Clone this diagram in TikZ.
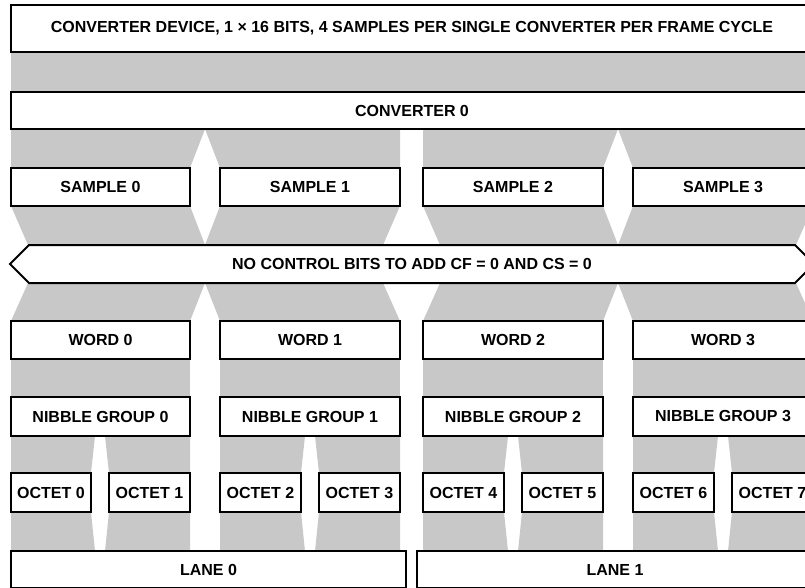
\documentclass[tikz,border=0pt]{standalone}
\usepackage{fontspec}
\setmainfont{Liberation Sans}
\definecolor{band}{RGB}{200,200,200}
% box from (x1,y1) to (x2,y2), y measured downwards
\newcommand\bitbox[6]{%
  \node[blk, minimum width={(#4-#2)*1pt}, minimum height={(#5-#3)*1pt}]
    (#1) at ({(#2+#4)/2},{(#3+#5)/2}) {#6};}
\begin{document}
\begin{tikzpicture}[x=1pt,y=-1pt,
  flow/.style={fill=band},
  edge/.style={draw=black, line width=2pt},
  lbl/.style={font=\fontsize{16}{18}\selectfont\bfseries},
  blk/.style={edge, lbl, fill=white, inner sep=0pt, outer sep=0pt}]
\useasboundingbox (0,0) rectangle (805,588);
\clip (0,0) rectangle (805,588);

% grey mapping bands
\fill[flow] (11,52) rectangle (813,92);
% converter -> samples
\fill[flow] (11,129) -- (205,129) -- (190,168) -- (11,168) -- cycle;
\fill[flow] (205,129) -- (400,129) -- (400,168) -- (220,168) -- cycle;
\fill[flow] (423,129) -- (618,129) -- (603,168) -- (423,168) -- cycle;
\fill[flow] (618,129) -- (813,129) -- (813,168) -- (633,168) -- cycle;
% samples -> control bits -> words
\fill[flow] (11,206) -- (190,206) -- (205,245) -- (28,245) -- cycle;
\fill[flow] (220,206) -- (400,206) -- (383,245) -- (205,245) -- cycle;
\fill[flow] (423,206) -- (603,206) -- (618,245) -- (440,245) -- cycle;
\fill[flow] (633,206) -- (813,206) -- (796,245) -- (618,245) -- cycle;
\fill[flow] (11,321) -- (190,321) -- (205,283) -- (28,283) -- cycle;
\fill[flow] (220,321) -- (400,321) -- (383,283) -- (205,283) -- cycle;
\fill[flow] (423,321) -- (603,321) -- (618,283) -- (440,283) -- cycle;
\fill[flow] (633,321) -- (813,321) -- (796,283) -- (618,283) -- cycle;
% words -> nibble groups -> octets -> lanes
\foreach \a/\b/\c in {11/190/100, 220/400/310, 423/603/513, 633/813/723} {
  \fill[flow] (\a,359) rectangle (\b,397);
  \fill[flow] (\a,436) -- (\c-5,436) -- (\c-9,473) -- (\a,473) -- cycle;
  \fill[flow] (\c+5,436) -- (\b,436) -- (\b,473) -- (\c+9,473) -- cycle;
  \fill[flow] (\a,551) -- (\c-5,551) -- (\c-9,512) -- (\a,512) -- cycle;
  \fill[flow] (\c+5,551) -- (\b,551) -- (\b,512) -- (\c+9,512) -- cycle;
}

% boxes
\bitbox{dev}{11}{5}{813}{52}{CONVERTER DEVICE, 1 × 16 BITS, 4 SAMPLES PER SINGLE CONVERTER PER FRAME CYCLE}
\bitbox{conv}{11}{92}{813}{129}{CONVERTER 0}

\foreach \a/\b [count=\i from 0] in {11/190, 220/400, 423/603, 633/813} {
  \bitbox{s\i}{\a}{168}{\b}{206}{SAMPLE \i}
  \bitbox{w\i}{\a}{321}{\b}{359}{WORD \i}
  \bitbox{n\i}{\a}{397}{\b}{436}{NIBBLE GROUP \i}
}
\foreach \a/\b [count=\i from 0] in {11/91, 109/190, 220/301, 319/400, 423/504, 522/603, 633/714, 732/813} {
  \bitbox{o\i}{\a}{473}{\b}{512}{OCTET \i}
}

% control-bits banner
\filldraw[edge, fill=white, line join=miter]
  (10,264) -- (29,245) -- (795,245) -- (814,264) -- (795,283) -- (29,283) -- cycle;
\node[lbl] (ctl) at (412,264) {NO CONTROL BITS TO ADD CF = 0 AND CS = 0};

\bitbox{l0}{11}{551}{406}{588}{LANE 0}
\bitbox{l1}{417}{551}{813}{588}{LANE 1}
\end{tikzpicture}
\end{document}
